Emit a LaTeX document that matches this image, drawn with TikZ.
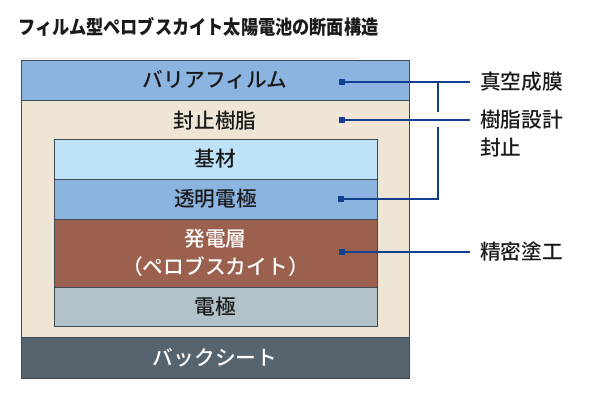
\documentclass[tikz,border=0pt]{standalone}
\usepackage{fontspec}
\setmainfont{Noto Sans CJK JP}
\newfontfamily\jpmed{Noto Sans CJK JP Medium}
\begin{document}
\begin{tikzpicture}[x=1bp,y=-1bp,
  layer/.style={draw=edgegray, line width=0.9bp, inner sep=0, minimum width=#1, font=\lbl},
  lbl/.style={font=\lbl, inner sep=0},
  marker/.style={fill=linkblue, minimum size=6bp, inner sep=0, draw=none},
  link/.style={draw=linkblue, line width=1.1bp},
  side/.style={font=\lbl, inner sep=0, anchor=west, text=textdark, align=left}
]
\definecolor{edgegray}{HTML}{3E4A54}
\definecolor{barrier}{HTML}{8CB4E0}
\definecolor{resin}{HTML}{EEE5D4}
\definecolor{substrate}{HTML}{BEE3F8}
\definecolor{transp}{HTML}{8CB4E0}
\definecolor{active}{HTML}{9C604F}
\definecolor{electrode}{HTML}{B1C2CB}
\definecolor{backsheet}{HTML}{56646F}
\definecolor{linkblue}{HTML}{123F8F}
\definecolor{textdark}{HTML}{1A1A1A}
\newcommand{\lbl}{\jpmed\fontsize{20.8}{28}\selectfont}
\useasboundingbox (0,0) rectangle (600,401);
\fill[white] (0,0) rectangle (600,401);

% title
\node[anchor=west, inner sep=0, font=\fontsize{19.5}{22}\selectfont\bfseries, text=textdark] (title) at (18,27) {\scalebox{0.885}[1]{フィルム型ペロブスカイト太陽電池の断面構造}};
\draw[draw=black!8, line width=0.8bp] (18,58) -- (358,58);

% sealing resin (outer frame)
\draw[fill=resin, draw=edgegray, line width=0.9bp] (21,100) rectangle (409,337);
\node[lbl, text=textdark] (resintext) at (215,121) {封止樹脂};

% barrier film
\node[layer=388bp, minimum height=40bp, fill=barrier, text=textdark] (barrier) at (215,80) {バリアフィルム};
% back sheet
\node[layer=388bp, minimum height=41bp, fill=backsheet, text=white] (back) at (215,357.5) {バックシート};

% inner stack
\node[layer=323bp, minimum height=40bp, fill=substrate, text=textdark] (sub) at (215.5,159) {基材};
\node[layer=323bp, minimum height=40bp, fill=transp, text=textdark] (tce) at (215.5,199) {透明電極};
\node[layer=323bp, minimum height=68bp, fill=active, text=white, align=center] (act) at (215.5,253) {発電層\\（ペロブスカイト）};
\node[layer=323bp, minimum height=39bp, fill=electrode, text=textdark] (elec) at (215.5,306.5) {電極};

% markers
\node[marker] (m1) at (342,82) {};
\node[marker] (m2) at (342,120) {};
\node[marker] (m3) at (341,199) {};
\node[marker] (m4) at (342,252) {};

% side labels
\node[side] (l1) at (480,82) {真空成膜};
\node[side] (l2) at (480,134) {樹脂設計\\封止};
\node[side] (l4) at (480,252) {精密塗工};

\coordinate (e1) at (470,82);
\coordinate (e2) at (470,120);
\coordinate (e4) at (470,252);
\coordinate (j1) at (438,82);
\coordinate (j2) at (438,112);
\coordinate (j3) at (438,127);
\coordinate (j4) at (438,199);

\draw[link] (m1.center) -- (e1);
\draw[link] (m2.center) -- (e2);
\draw[link] (m4.center) -- (e4);
\draw[link] (j1) -- (j2);
\draw[link] (m3.center) -- (j4) -- (j3);
\end{tikzpicture}
\end{document}
